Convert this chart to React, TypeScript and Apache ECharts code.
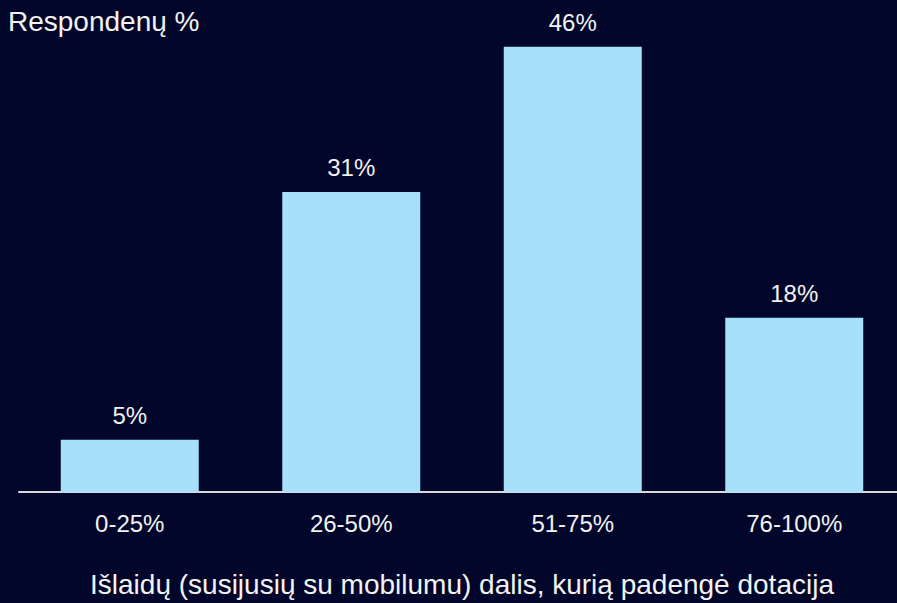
import React, { useEffect, useRef } from "react";
import * as echarts from "echarts";

const categories = ["0-25%", "26-50%", "51-75%", "76-100%"];
const values = [5.4, 31, 46, 18];
const yAxisTitle = "Respondenų %";
const xAxisTitle = "Išlaidų (susijusių su mobilumu) dalis, kurią padengė dotacija";

const FONT = "Arial, 'Liberation Sans', sans-serif";

export default function App() {
  const ref = useRef<HTMLDivElement>(null);
  useEffect(() => {
    document.body.style.margin = "0";
    document.body.style.background = "#01062a";
    const chart = echarts.init(ref.current!, undefined, { renderer: "svg" });
    chart.setOption({
      animation: false,
      backgroundColor: "#01062a",
      title: {
        text: yAxisTitle,
        left: 8,
        top: 7,
        padding: 0,
        textStyle: { color: "#f2f2f2", fontSize: 28, fontWeight: "normal", fontFamily: FONT, lineHeight: 28 },
      },
      grid: { left: 19, width: 886, top: 8, bottom: 109 },
      xAxis: {
        type: "category",
        data: categories,
        axisLine: { lineStyle: { color: "#d9d9d9", width: 2 } },
        axisTick: { show: false },
        axisLabel: { color: "#f2f2f2", fontSize: 24, fontFamily: FONT, margin: 19, lineHeight: 24 },
        name: xAxisTitle,
        nameLocation: "middle",
        nameGap: 78,
        nameTextStyle: { color: "#f2f2f2", fontSize: 28, fontFamily: FONT, lineHeight: 28 },
      },
      yAxis: {
        type: "value",
        min: 0,
        max: 50,
        show: false,
        splitLine: { show: false },
      },
      series: [
        {
          type: "bar",
          data: values,
          barWidth: 138,
          itemStyle: { color: "#a6e0fa" },
          label: {
            show: true,
            position: "top",
            distance: 12,
            color: "#f2f2f2",
            fontSize: 24,
            fontFamily: FONT,
            lineHeight: 24,
            formatter: (p: any) => Math.round(p.value) + "%",
          },
        },
      ],
    });
    return () => chart.dispose();
  }, []);
  return (
    <div style={{ position: "absolute", left: 0, top: 0, width: 897, height: 603, overflow: "hidden" }}>
      <div ref={ref} style={{ position: "absolute", left: 0, top: 0, width: 912, height: 603 }} />
    </div>
  );
}
